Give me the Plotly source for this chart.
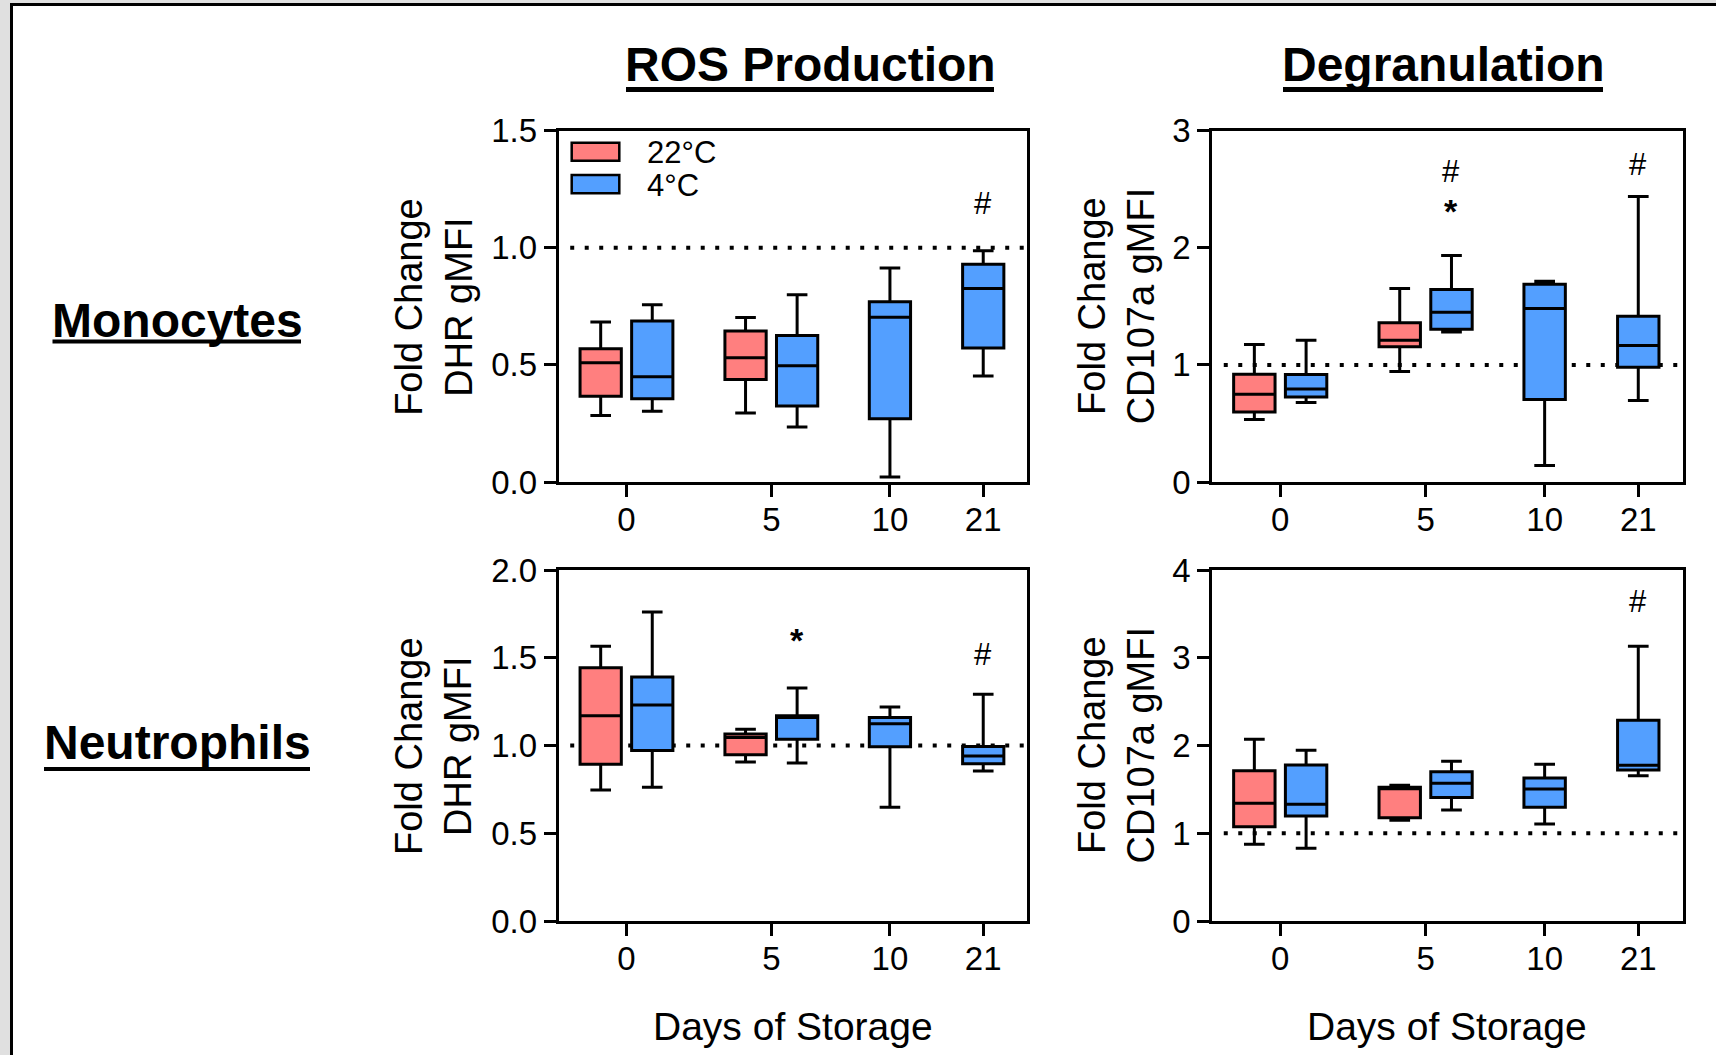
import plotly.graph_objects as go

W, H = 1716, 1055

# ---------------- data ----------------
days = ['0', '5', '10', '21']
days_22 = ['0', '5']
days_4 = ['0', '5', '10', '21']

# each entry: (lower whisker, Q1, median, Q3, upper whisker)
ros_mono_22 = [(0.284, 0.366, 0.509, 0.569, 0.683), (0.295, 0.438, 0.530, 0.645, 0.702)]
ros_mono_4 = [(0.302, 0.355, 0.449, 0.687, 0.757), (0.235, 0.324, 0.496, 0.626, 0.800),
              (0.021, 0.270, 0.703, 0.770, 0.914), (0.453, 0.572, 0.826, 0.930, 0.987)]
deg_mono_22 = [(0.533, 0.598, 0.749, 0.920, 1.174), (0.943, 1.154, 1.211, 1.359, 1.652)]
deg_mono_4 = [(0.678, 0.726, 0.795, 0.917, 1.211), (1.282, 1.305, 1.450, 1.644, 1.934),
              (0.140, 0.704, 1.481, 1.689, 1.715), (0.695, 0.980, 1.165, 1.416, 2.439)]
ros_neut_22 = [(0.746, 0.893, 1.170, 1.443, 1.565), (0.906, 0.948, 1.045, 1.066, 1.092)]
ros_neut_4 = [(0.762, 0.971, 1.231, 1.390, 1.761), (0.900, 1.035, 1.160, 1.170, 1.328),
              (0.648, 0.993, 1.124, 1.159, 1.219), (0.855, 0.896, 0.940, 0.995, 1.292)]
deg_neut_22 = [(0.874, 1.075, 1.341, 1.713, 2.070), (1.147, 1.178, 1.508, 1.523, 1.546)]
deg_neut_4 = [(0.828, 1.197, 1.330, 1.778, 1.945), (1.265, 1.406, 1.569, 1.702, 1.820),
              (1.105, 1.295, 1.504, 1.630, 1.785), (1.656, 1.721, 1.774, 2.287, 3.130)]

# significance marks: (day, symbol, y)
ros_mono_marks = [('21', '#', 1.19)]
deg_mono_marks = [('5', '#', 2.65), ('5', '*', 2.31), ('21', '#', 2.71)]
ros_neut_marks = [('5', '*', 1.60), ('21', '#', 1.52)]
deg_neut_marks = [('21', '#', 3.64)]

col_titles = ['ROS Production', 'Degranulation']
row_titles = ['Monocytes', 'Neutrophils']
ytitles = ['Fold Change<br>DHR gMFI', 'Fold Change<br>CD107a gMFI']
xtitle = 'Days of Storage'
legend_names = ['22°C', '4°C']

# ---------------- style / layout ----------------
FONT = 'Liberation Sans, Arial, sans-serif'
RED = '#FF7F7F'
BLUE = '#539FFF'
tick_pos = {'0': 0.145, '5': 0.454, '10': 0.707, '21': 0.906}
pair_offset = 0.055
box_w = 0.088
LW = 2.5
BLW = 3

def fx(px):
    return px / W

def fy(py):
    return 1 - py / H

# panel pixel frames: (x0, x1, ytop, ybottom)
panels = {
    1: (558.5, 1027.3, 130.7, 482.0),
    2: (1212.0, 1682.5, 130.7, 482.0),
    3: (558.5, 1027.3, 570.0, 921.0),
    4: (1212.0, 1682.5, 570.0, 921.0),
}
yranges = {1: (1.5, 0.5, '.1f'), 2: (3, 1, 'd'), 3: (2.0, 0.5, '.1f'), 4: (4, 1, 'd')}

panel_data = {
    1: (ros_mono_22, ros_mono_4, ros_mono_marks),
    2: (deg_mono_22, deg_mono_4, deg_mono_marks),
    3: (ros_neut_22, ros_neut_4, ros_neut_marks),
    4: (deg_neut_22, deg_neut_4, deg_neut_marks),
}

fig = go.Figure()

def xpos_22(d):
    return tick_pos[d] - pair_offset

def xpos_4(d):
    return tick_pos[d] + pair_offset if d in days_22 else tick_pos[d]

annotations = []
shapes = []

for k in range(1, 5):
    s22, s4, marks = panel_data[k]
    xa = 'x' if k == 1 else f'x{k}'
    ya = 'y' if k == 1 else f'y{k}'
    for series, dlist, color, xf, name in [(s22, days_22, RED, xpos_22, legend_names[0]),
                                          (s4, days_4, BLUE, xpos_4, legend_names[1])]:
        fig.add_trace(go.Box(
            x=[xf(d) for d in dlist],
            lowerfence=[v[0] for v in series],
            q1=[v[1] for v in series],
            median=[v[2] for v in series],
            q3=[v[3] for v in series],
            upperfence=[v[4] for v in series],
            width=box_w,
            whiskerwidth=0.5,
            fillcolor=color,
            line=dict(color='black', width=BLW),
            boxpoints=False,
            name=name,
            showlegend=False,
            hoverinfo='skip',
            xaxis=xa, yaxis=ya,
        ))
    for d, sym, yv in marks:
        annotations.append(dict(
            x=xpos_4(d), y=yv, xref=xa, yref=ya, text=('<b>*</b>' if sym == '*' else sym),
            showarrow=False, font=dict(family=FONT, size=34 if sym == '*' else 31, color='black'),
            xanchor='center', yanchor='middle'))
    # reference dotted line at 1
    shapes.append(dict(type='line', xref=f'{xa} domain', yref=ya, x0=0.025, x1=1.0, y0=1, y1=1,
                       line=dict(color='black', width=4, dash='4px,10.5px'), layer='below'))

# axes
for k in range(1, 5):
    x0, x1, yt, yb = panels[k]
    top, dt, fmt = yranges[k]
    sfx = '' if k == 1 else str(k)
    fig.layout['xaxis' + sfx] = dict(
        domain=[fx(x0), fx(x1)], range=[0, 1], anchor='y' + sfx,
        tickmode='array', tickvals=[tick_pos[d] for d in days], ticktext=days,
        ticks='outside', ticklen=12, tickwidth=LW, tickcolor='black',
        ticklabelstandoff=-5,
        showline=True, linecolor='black', linewidth=LW, mirror=True,
        showgrid=False, zeroline=False, fixedrange=True, automargin=False,
        tickfont=dict(family=FONT, size=33, color='black'))
    fig.layout['yaxis' + sfx] = dict(
        domain=[fy(yb), fy(yt)], range=[0, top], anchor='x' + sfx, dtick=dt, tick0=0,
        tickformat=fmt,
        ticks='outside', ticklen=12, tickwidth=LW, tickcolor='black',
        showline=True, linecolor='black', linewidth=LW, mirror=True,
        showgrid=False, zeroline=False, fixedrange=True, automargin=False,
        tickfont=dict(family=FONT, size=33, color='black'))

# legend (manual, inside top-left panel)
for i, (name, color) in enumerate(zip(legend_names, [RED, BLUE])):
    ytop = [142.7, 175.0][i]
    ybot = [160.7, 193.3][i]
    shapes.append(dict(type='rect', xref='paper', yref='paper',
                       x0=fx(571.7), x1=fx(619.3), y0=fy(ybot), y1=fy(ytop),
                       fillcolor=color, line=dict(color='black', width=LW)))
    annotations.append(dict(xref='paper', yref='paper', x=fx(645), y=fy((ytop + ybot) / 2 + 1),
                            text=name, showarrow=False, xanchor='left', yanchor='middle',
                            font=dict(family=FONT, size=31, color='black')))

# column titles
for t, cx, (ux0, ux1) in zip(col_titles, [810, 1443], [(626, 994), (1283, 1603)]):
    annotations.append(dict(xref='paper', yref='paper', x=fx(cx), y=fy(65), text=f'<b>{t}</b>',
                            showarrow=False, xanchor='center', yanchor='middle',
                            font=dict(family=FONT, size=48, color='black')))
    shapes.append(dict(type='line', xref='paper', yref='paper', x0=fx(ux0), x1=fx(ux1),
                       y0=fy(89.5), y1=fy(89.5), line=dict(color='black', width=5)))

# row titles
for t, cy, uy, (ux0, ux1) in zip(row_titles, [320, 742], [341.5, 769], [(52.5, 301), (44, 310)]):
    annotations.append(dict(xref='paper', yref='paper', x=fx(177), y=fy(cy), text=f'<b>{t}</b>',
                            showarrow=False, xanchor='center', yanchor='middle',
                            font=dict(family=FONT, size=48, color='black')))
    shapes.append(dict(type='line', xref='paper', yref='paper', x0=fx(ux0), x1=fx(ux1),
                       y0=fy(uy), y1=fy(uy), line=dict(color='black', width=4)))

# y-axis titles
for k in range(1, 5):
    x0, x1, yt, yb = panels[k]
    cx = 433.5 if k in (1, 3) else 1116
    annotations.append(dict(xref='paper', yref='paper', x=fx(cx), y=fy((yt + yb) / 2),
                            text=ytitles[0] if k in (1, 3) else ytitles[1], textangle=-90,
                            showarrow=False, xanchor='center', yanchor='middle',
                            font=dict(family=FONT, size=38, color='black')))

# x-axis titles
for k in (3, 4):
    x0, x1, yt, yb = panels[k]
    annotations.append(dict(xref='paper', yref='paper', x=fx((x0 + x1) / 2), y=fy(1026),
                            text=xtitle, showarrow=False, xanchor='center', yanchor='middle',
                            font=dict(family=FONT, size=39, color='black')))

# page frame (grey margin + black border)
shapes.insert(0, dict(type='rect', xref='paper', yref='paper', x0=fx(11.5), x1=1.05,
                      y0=-0.05, y1=fy(4.5), fillcolor='white',
                      line=dict(color='black', width=3), layer='below'))

fig.update_layout(
    width=W, height=H, margin=dict(l=0, r=0, t=0, b=0, pad=0, autoexpand=False),
    paper_bgcolor='#E0E0E0', plot_bgcolor='rgba(0,0,0,0)',
    boxmode='overlay', showlegend=False,
    annotations=annotations, shapes=shapes,
    font=dict(family=FONT, color='black'),
)

fig.write_html('out.html')
